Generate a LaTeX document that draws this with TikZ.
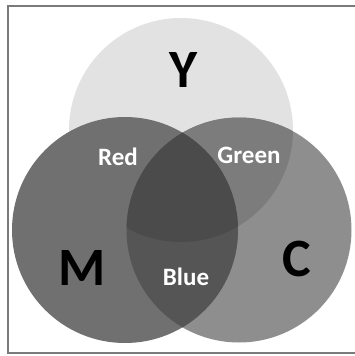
\documentclass[tikz,border=0pt]{standalone}
\usepackage{fontspec}
\setmainfont{Carlito}
\definecolor{ycol}{HTML}{E2E2E2}
\definecolor{mcol}{HTML}{707070}
\definecolor{ccol}{HTML}{8E8E8E}
\definecolor{gcol}{HTML}{7C7C7C}
\definecolor{lenslow}{HTML}{555555}
\definecolor{lenstop}{HTML}{4B4B4B}
\definecolor{framecol}{HTML}{7A7A7A}
\tikzset{
  bigletter/.style={font=\fontsize{54}{54}\selectfont\bfseries, text=black, inner sep=0pt},
  mixlabel/.style={font=\fontsize{25}{25}\selectfont\bfseries, text=white, inner sep=0pt}
}
\begin{document}
\begin{tikzpicture}[x=1pt,y=-1pt]
\useasboundingbox (0,0) rectangle (355,356);
\fill[white] (0,0) rectangle (355,356);
% circles
\fill[ycol] (181,130) circle[radius=112];
\fill[ccol] (239,230) circle[radius=112.5];
\fill[mcol] (125,230) circle[radius=113];
% C and Y overlap (green)
\begin{scope}
  \clip (239,230) circle[radius=112.5];
  \fill[gcol] (181,130) circle[radius=112];
\end{scope}
% M and C overlap (lens)
\begin{scope}
  \clip (239,230) circle[radius=112.5];
  \fill[lenslow] (125,230) circle[radius=113];
  \clip (125,230) circle[radius=113];
  \fill[lenstop] (181,130) circle[radius=112];
\end{scope}
% frame
\draw[framecol, line width=2pt] (356,5.5) -- (7.5,5.5) -- (7.5,352.5) -- (356,352.5);
% labels
\node[bigletter] (Y) at (184,70) {Y};
\node[bigletter] (M) at (82,268) {M};
\node[bigletter] (C) at (297,259) {C};
\node[mixlabel] (Red) at (118,157) {Red};
\node[mixlabel] (Green) at (249,155) {Green};
\node[mixlabel] (Blue) at (186,277) {Blue};
\end{tikzpicture}
\end{document}
